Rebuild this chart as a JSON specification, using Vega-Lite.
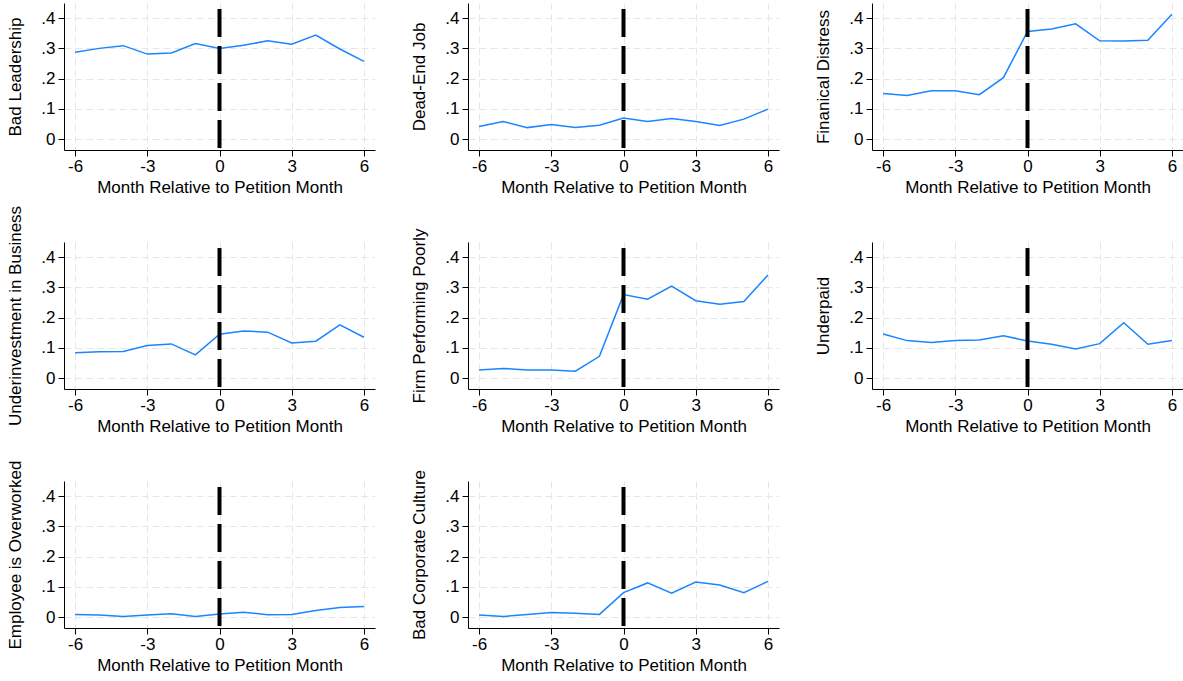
{
  "$schema": "https://vega.github.io/schema/vega-lite/v6.json",
  "padding": {"left": 6, "top": 3, "right": 0, "bottom": 0},
  "background": "white",
  "datasets": {
    "d": [
      {"c": "Bad Leadership", "m": -6, "v": 0.287}, {"c": "Bad Leadership", "m": -5, "v": 0.300}, {"c": "Bad Leadership", "m": -4, "v": 0.309}, {"c": "Bad Leadership", "m": -3, "v": 0.281}, {"c": "Bad Leadership", "m": -2, "v": 0.285}, {"c": "Bad Leadership", "m": -1, "v": 0.316}, {"c": "Bad Leadership", "m": 0, "v": 0.300}, {"c": "Bad Leadership", "m": 1, "v": 0.310}, {"c": "Bad Leadership", "m": 2, "v": 0.325}, {"c": "Bad Leadership", "m": 3, "v": 0.314}, {"c": "Bad Leadership", "m": 4, "v": 0.344}, {"c": "Bad Leadership", "m": 5, "v": 0.298}, {"c": "Bad Leadership", "m": 6, "v": 0.257},
      {"c": "Dead-End Job", "m": -6, "v": 0.042}, {"c": "Dead-End Job", "m": -5, "v": 0.058}, {"c": "Dead-End Job", "m": -4, "v": 0.038}, {"c": "Dead-End Job", "m": -3, "v": 0.048}, {"c": "Dead-End Job", "m": -2, "v": 0.038}, {"c": "Dead-End Job", "m": -1, "v": 0.046}, {"c": "Dead-End Job", "m": 0, "v": 0.070}, {"c": "Dead-End Job", "m": 1, "v": 0.058}, {"c": "Dead-End Job", "m": 2, "v": 0.068}, {"c": "Dead-End Job", "m": 3, "v": 0.058}, {"c": "Dead-End Job", "m": 4, "v": 0.045}, {"c": "Dead-End Job", "m": 5, "v": 0.066}, {"c": "Dead-End Job", "m": 6, "v": 0.099},
      {"c": "Finanical Distress", "m": -6, "v": 0.151}, {"c": "Finanical Distress", "m": -5, "v": 0.144}, {"c": "Finanical Distress", "m": -4, "v": 0.160}, {"c": "Finanical Distress", "m": -3, "v": 0.160}, {"c": "Finanical Distress", "m": -2, "v": 0.147}, {"c": "Finanical Distress", "m": -1, "v": 0.203}, {"c": "Finanical Distress", "m": 0, "v": 0.356}, {"c": "Finanical Distress", "m": 1, "v": 0.364}, {"c": "Finanical Distress", "m": 2, "v": 0.381}, {"c": "Finanical Distress", "m": 3, "v": 0.325}, {"c": "Finanical Distress", "m": 4, "v": 0.324}, {"c": "Finanical Distress", "m": 5, "v": 0.327}, {"c": "Finanical Distress", "m": 6, "v": 0.413},
      {"c": "Underinvestment in Business", "m": -6, "v": 0.084}, {"c": "Underinvestment in Business", "m": -5, "v": 0.087}, {"c": "Underinvestment in Business", "m": -4, "v": 0.088}, {"c": "Underinvestment in Business", "m": -3, "v": 0.108}, {"c": "Underinvestment in Business", "m": -2, "v": 0.113}, {"c": "Underinvestment in Business", "m": -1, "v": 0.077}, {"c": "Underinvestment in Business", "m": 0, "v": 0.145}, {"c": "Underinvestment in Business", "m": 1, "v": 0.156}, {"c": "Underinvestment in Business", "m": 2, "v": 0.152}, {"c": "Underinvestment in Business", "m": 3, "v": 0.116}, {"c": "Underinvestment in Business", "m": 4, "v": 0.122}, {"c": "Underinvestment in Business", "m": 5, "v": 0.176}, {"c": "Underinvestment in Business", "m": 6, "v": 0.135},
      {"c": "Firm Performing Poorly", "m": -6, "v": 0.027}, {"c": "Firm Performing Poorly", "m": -5, "v": 0.032}, {"c": "Firm Performing Poorly", "m": -4, "v": 0.027}, {"c": "Firm Performing Poorly", "m": -3, "v": 0.027}, {"c": "Firm Performing Poorly", "m": -2, "v": 0.023}, {"c": "Firm Performing Poorly", "m": -1, "v": 0.072}, {"c": "Firm Performing Poorly", "m": 0, "v": 0.276}, {"c": "Firm Performing Poorly", "m": 1, "v": 0.261}, {"c": "Firm Performing Poorly", "m": 2, "v": 0.304}, {"c": "Firm Performing Poorly", "m": 3, "v": 0.256}, {"c": "Firm Performing Poorly", "m": 4, "v": 0.244}, {"c": "Firm Performing Poorly", "m": 5, "v": 0.253}, {"c": "Firm Performing Poorly", "m": 6, "v": 0.341},
      {"c": "Underpaid", "m": -6, "v": 0.146}, {"c": "Underpaid", "m": -5, "v": 0.124}, {"c": "Underpaid", "m": -4, "v": 0.118}, {"c": "Underpaid", "m": -3, "v": 0.124}, {"c": "Underpaid", "m": -2, "v": 0.126}, {"c": "Underpaid", "m": -1, "v": 0.140}, {"c": "Underpaid", "m": 0, "v": 0.123}, {"c": "Underpaid", "m": 1, "v": 0.112}, {"c": "Underpaid", "m": 2, "v": 0.096}, {"c": "Underpaid", "m": 3, "v": 0.114}, {"c": "Underpaid", "m": 4, "v": 0.183}, {"c": "Underpaid", "m": 5, "v": 0.112}, {"c": "Underpaid", "m": 6, "v": 0.124},
      {"c": "Employee is Overworked", "m": -6, "v": 0.009}, {"c": "Employee is Overworked", "m": -5, "v": 0.007}, {"c": "Employee is Overworked", "m": -4, "v": 0.002}, {"c": "Employee is Overworked", "m": -3, "v": 0.007}, {"c": "Employee is Overworked", "m": -2, "v": 0.011}, {"c": "Employee is Overworked", "m": -1, "v": 0.002}, {"c": "Employee is Overworked", "m": 0, "v": 0.010}, {"c": "Employee is Overworked", "m": 1, "v": 0.016}, {"c": "Employee is Overworked", "m": 2, "v": 0.008}, {"c": "Employee is Overworked", "m": 3, "v": 0.009}, {"c": "Employee is Overworked", "m": 4, "v": 0.022}, {"c": "Employee is Overworked", "m": 5, "v": 0.032}, {"c": "Employee is Overworked", "m": 6, "v": 0.035},
      {"c": "Bad Corporate Culture", "m": -6, "v": 0.007}, {"c": "Bad Corporate Culture", "m": -5, "v": 0.002}, {"c": "Bad Corporate Culture", "m": -4, "v": 0.009}, {"c": "Bad Corporate Culture", "m": -3, "v": 0.015}, {"c": "Bad Corporate Culture", "m": -2, "v": 0.013}, {"c": "Bad Corporate Culture", "m": -1, "v": 0.009}, {"c": "Bad Corporate Culture", "m": 0, "v": 0.081}, {"c": "Bad Corporate Culture", "m": 1, "v": 0.113}, {"c": "Bad Corporate Culture", "m": 2, "v": 0.079}, {"c": "Bad Corporate Culture", "m": 3, "v": 0.116}, {"c": "Bad Corporate Culture", "m": 4, "v": 0.106}, {"c": "Bad Corporate Culture", "m": 5, "v": 0.081}, {"c": "Bad Corporate Culture", "m": 6, "v": 0.118}
    ]
  },
  "columns": 3,
  "bounds": "flush",
  "align": "all",
  "spacing": {"row": 92, "column": 93},
  "concat": [
    {"width": 311, "height": 147, "data": {"name": "d"}, "transform": [{"filter": "datum.c == 'Bad Leadership'"}],
     "layer": [
      {"mark": {"type": "line", "color": "#1a85ff", "strokeWidth": 1.5},
       "encoding": {"x": {"field": "m", "type": "quantitative", "scale": {"domain": [-6.46, 6.46], "nice": false, "zero": false}, "axis": {"values": [-6, -3, 0, 3, 6], "labelExpr": "'' + datum.value", "title": "Month Relative to Petition Month"}},
                    "y": {"field": "v", "type": "quantitative", "scale": {"domain": [-0.036, 0.45], "nice": false}, "axis": {"values": [0, 0.1, 0.2, 0.3, 0.4], "labelExpr": "datum.value == 0 ? '0' : replace(format(datum.value, '.1f'), '0.', '.')", "title": "Bad Leadership"}}}},
      {"data": {"values": [{}]}, "mark": {"type": "rule", "color": "#000", "strokeWidth": 4, "strokeDash": [28, 9]},
       "encoding": {"x": {"datum": 0, "type": "quantitative", "scale": {"domain": [-6.46, 6.46], "nice": false, "zero": false}, "axis": {"values": [-6, -3, 0, 3, 6], "labelExpr": "'' + datum.value", "title": "Month Relative to Petition Month"}},
                    "y": {"datum": 0.43, "type": "quantitative", "scale": {"domain": [-0.036, 0.45], "nice": false}, "axis": {"values": [0, 0.1, 0.2, 0.3, 0.4], "labelExpr": "datum.value == 0 ? '0' : replace(format(datum.value, '.1f'), '0.', '.')", "title": "Bad Leadership"}}, "y2": {"datum": -0.036}}}
     ]},
    {"width": 311, "height": 147, "data": {"name": "d"}, "transform": [{"filter": "datum.c == 'Dead-End Job'"}],
     "layer": [
      {"mark": {"type": "line", "color": "#1a85ff", "strokeWidth": 1.5},
       "encoding": {"x": {"field": "m", "type": "quantitative", "scale": {"domain": [-6.46, 6.46], "nice": false, "zero": false}, "axis": {"values": [-6, -3, 0, 3, 6], "labelExpr": "'' + datum.value", "title": "Month Relative to Petition Month"}},
                    "y": {"field": "v", "type": "quantitative", "scale": {"domain": [-0.036, 0.45], "nice": false}, "axis": {"values": [0, 0.1, 0.2, 0.3, 0.4], "labelExpr": "datum.value == 0 ? '0' : replace(format(datum.value, '.1f'), '0.', '.')", "title": "Dead-End Job"}}}},
      {"data": {"values": [{}]}, "mark": {"type": "rule", "color": "#000", "strokeWidth": 4, "strokeDash": [28, 9]},
       "encoding": {"x": {"datum": 0, "type": "quantitative", "scale": {"domain": [-6.46, 6.46], "nice": false, "zero": false}, "axis": {"values": [-6, -3, 0, 3, 6], "labelExpr": "'' + datum.value", "title": "Month Relative to Petition Month"}},
                    "y": {"datum": 0.43, "type": "quantitative", "scale": {"domain": [-0.036, 0.45], "nice": false}, "axis": {"values": [0, 0.1, 0.2, 0.3, 0.4], "labelExpr": "datum.value == 0 ? '0' : replace(format(datum.value, '.1f'), '0.', '.')", "title": "Dead-End Job"}}, "y2": {"datum": -0.036}}}
     ]},
    {"width": 311, "height": 147, "data": {"name": "d"}, "transform": [{"filter": "datum.c == 'Finanical Distress'"}],
     "layer": [
      {"mark": {"type": "line", "color": "#1a85ff", "strokeWidth": 1.5},
       "encoding": {"x": {"field": "m", "type": "quantitative", "scale": {"domain": [-6.46, 6.46], "nice": false, "zero": false}, "axis": {"values": [-6, -3, 0, 3, 6], "labelExpr": "'' + datum.value", "title": "Month Relative to Petition Month"}},
                    "y": {"field": "v", "type": "quantitative", "scale": {"domain": [-0.036, 0.45], "nice": false}, "axis": {"values": [0, 0.1, 0.2, 0.3, 0.4], "labelExpr": "datum.value == 0 ? '0' : replace(format(datum.value, '.1f'), '0.', '.')", "title": "Finanical Distress"}}}},
      {"data": {"values": [{}]}, "mark": {"type": "rule", "color": "#000", "strokeWidth": 4, "strokeDash": [28, 9]},
       "encoding": {"x": {"datum": 0, "type": "quantitative", "scale": {"domain": [-6.46, 6.46], "nice": false, "zero": false}, "axis": {"values": [-6, -3, 0, 3, 6], "labelExpr": "'' + datum.value", "title": "Month Relative to Petition Month"}},
                    "y": {"datum": 0.43, "type": "quantitative", "scale": {"domain": [-0.036, 0.45], "nice": false}, "axis": {"values": [0, 0.1, 0.2, 0.3, 0.4], "labelExpr": "datum.value == 0 ? '0' : replace(format(datum.value, '.1f'), '0.', '.')", "title": "Finanical Distress"}}, "y2": {"datum": -0.036}}}
     ]},
    {"width": 311, "height": 147, "data": {"name": "d"}, "transform": [{"filter": "datum.c == 'Underinvestment in Business'"}],
     "layer": [
      {"mark": {"type": "line", "color": "#1a85ff", "strokeWidth": 1.5},
       "encoding": {"x": {"field": "m", "type": "quantitative", "scale": {"domain": [-6.46, 6.46], "nice": false, "zero": false}, "axis": {"values": [-6, -3, 0, 3, 6], "labelExpr": "'' + datum.value", "title": "Month Relative to Petition Month"}},
                    "y": {"field": "v", "type": "quantitative", "scale": {"domain": [-0.036, 0.45], "nice": false}, "axis": {"values": [0, 0.1, 0.2, 0.3, 0.4], "labelExpr": "datum.value == 0 ? '0' : replace(format(datum.value, '.1f'), '0.', '.')", "title": "Underinvestment in Business"}}}},
      {"data": {"values": [{}]}, "mark": {"type": "rule", "color": "#000", "strokeWidth": 4, "strokeDash": [28, 9]},
       "encoding": {"x": {"datum": 0, "type": "quantitative", "scale": {"domain": [-6.46, 6.46], "nice": false, "zero": false}, "axis": {"values": [-6, -3, 0, 3, 6], "labelExpr": "'' + datum.value", "title": "Month Relative to Petition Month"}},
                    "y": {"datum": 0.43, "type": "quantitative", "scale": {"domain": [-0.036, 0.45], "nice": false}, "axis": {"values": [0, 0.1, 0.2, 0.3, 0.4], "labelExpr": "datum.value == 0 ? '0' : replace(format(datum.value, '.1f'), '0.', '.')", "title": "Underinvestment in Business"}}, "y2": {"datum": -0.036}}}
     ]},
    {"width": 311, "height": 147, "data": {"name": "d"}, "transform": [{"filter": "datum.c == 'Firm Performing Poorly'"}],
     "layer": [
      {"mark": {"type": "line", "color": "#1a85ff", "strokeWidth": 1.5},
       "encoding": {"x": {"field": "m", "type": "quantitative", "scale": {"domain": [-6.46, 6.46], "nice": false, "zero": false}, "axis": {"values": [-6, -3, 0, 3, 6], "labelExpr": "'' + datum.value", "title": "Month Relative to Petition Month"}},
                    "y": {"field": "v", "type": "quantitative", "scale": {"domain": [-0.036, 0.45], "nice": false}, "axis": {"values": [0, 0.1, 0.2, 0.3, 0.4], "labelExpr": "datum.value == 0 ? '0' : replace(format(datum.value, '.1f'), '0.', '.')", "title": "Firm Performing Poorly"}}}},
      {"data": {"values": [{}]}, "mark": {"type": "rule", "color": "#000", "strokeWidth": 4, "strokeDash": [28, 9]},
       "encoding": {"x": {"datum": 0, "type": "quantitative", "scale": {"domain": [-6.46, 6.46], "nice": false, "zero": false}, "axis": {"values": [-6, -3, 0, 3, 6], "labelExpr": "'' + datum.value", "title": "Month Relative to Petition Month"}},
                    "y": {"datum": 0.43, "type": "quantitative", "scale": {"domain": [-0.036, 0.45], "nice": false}, "axis": {"values": [0, 0.1, 0.2, 0.3, 0.4], "labelExpr": "datum.value == 0 ? '0' : replace(format(datum.value, '.1f'), '0.', '.')", "title": "Firm Performing Poorly"}}, "y2": {"datum": -0.036}}}
     ]},
    {"width": 311, "height": 147, "data": {"name": "d"}, "transform": [{"filter": "datum.c == 'Underpaid'"}],
     "layer": [
      {"mark": {"type": "line", "color": "#1a85ff", "strokeWidth": 1.5},
       "encoding": {"x": {"field": "m", "type": "quantitative", "scale": {"domain": [-6.46, 6.46], "nice": false, "zero": false}, "axis": {"values": [-6, -3, 0, 3, 6], "labelExpr": "'' + datum.value", "title": "Month Relative to Petition Month"}},
                    "y": {"field": "v", "type": "quantitative", "scale": {"domain": [-0.036, 0.45], "nice": false}, "axis": {"values": [0, 0.1, 0.2, 0.3, 0.4], "labelExpr": "datum.value == 0 ? '0' : replace(format(datum.value, '.1f'), '0.', '.')", "title": "Underpaid"}}}},
      {"data": {"values": [{}]}, "mark": {"type": "rule", "color": "#000", "strokeWidth": 4, "strokeDash": [28, 9]},
       "encoding": {"x": {"datum": 0, "type": "quantitative", "scale": {"domain": [-6.46, 6.46], "nice": false, "zero": false}, "axis": {"values": [-6, -3, 0, 3, 6], "labelExpr": "'' + datum.value", "title": "Month Relative to Petition Month"}},
                    "y": {"datum": 0.43, "type": "quantitative", "scale": {"domain": [-0.036, 0.45], "nice": false}, "axis": {"values": [0, 0.1, 0.2, 0.3, 0.4], "labelExpr": "datum.value == 0 ? '0' : replace(format(datum.value, '.1f'), '0.', '.')", "title": "Underpaid"}}, "y2": {"datum": -0.036}}}
     ]},
    {"width": 311, "height": 147, "data": {"name": "d"}, "transform": [{"filter": "datum.c == 'Employee is Overworked'"}],
     "layer": [
      {"mark": {"type": "line", "color": "#1a85ff", "strokeWidth": 1.5},
       "encoding": {"x": {"field": "m", "type": "quantitative", "scale": {"domain": [-6.46, 6.46], "nice": false, "zero": false}, "axis": {"values": [-6, -3, 0, 3, 6], "labelExpr": "'' + datum.value", "title": "Month Relative to Petition Month"}},
                    "y": {"field": "v", "type": "quantitative", "scale": {"domain": [-0.036, 0.45], "nice": false}, "axis": {"values": [0, 0.1, 0.2, 0.3, 0.4], "labelExpr": "datum.value == 0 ? '0' : replace(format(datum.value, '.1f'), '0.', '.')", "title": "Employee is Overworked"}}}},
      {"data": {"values": [{}]}, "mark": {"type": "rule", "color": "#000", "strokeWidth": 4, "strokeDash": [28, 9]},
       "encoding": {"x": {"datum": 0, "type": "quantitative", "scale": {"domain": [-6.46, 6.46], "nice": false, "zero": false}, "axis": {"values": [-6, -3, 0, 3, 6], "labelExpr": "'' + datum.value", "title": "Month Relative to Petition Month"}},
                    "y": {"datum": 0.43, "type": "quantitative", "scale": {"domain": [-0.036, 0.45], "nice": false}, "axis": {"values": [0, 0.1, 0.2, 0.3, 0.4], "labelExpr": "datum.value == 0 ? '0' : replace(format(datum.value, '.1f'), '0.', '.')", "title": "Employee is Overworked"}}, "y2": {"datum": -0.036}}}
     ]},
    {"width": 311, "height": 147, "data": {"name": "d"}, "transform": [{"filter": "datum.c == 'Bad Corporate Culture'"}],
     "layer": [
      {"mark": {"type": "line", "color": "#1a85ff", "strokeWidth": 1.5},
       "encoding": {"x": {"field": "m", "type": "quantitative", "scale": {"domain": [-6.46, 6.46], "nice": false, "zero": false}, "axis": {"values": [-6, -3, 0, 3, 6], "labelExpr": "'' + datum.value", "title": "Month Relative to Petition Month"}},
                    "y": {"field": "v", "type": "quantitative", "scale": {"domain": [-0.036, 0.45], "nice": false}, "axis": {"values": [0, 0.1, 0.2, 0.3, 0.4], "labelExpr": "datum.value == 0 ? '0' : replace(format(datum.value, '.1f'), '0.', '.')", "title": "Bad Corporate Culture"}}}},
      {"data": {"values": [{}]}, "mark": {"type": "rule", "color": "#000", "strokeWidth": 4, "strokeDash": [28, 9]},
       "encoding": {"x": {"datum": 0, "type": "quantitative", "scale": {"domain": [-6.46, 6.46], "nice": false, "zero": false}, "axis": {"values": [-6, -3, 0, 3, 6], "labelExpr": "'' + datum.value", "title": "Month Relative to Petition Month"}},
                    "y": {"datum": 0.43, "type": "quantitative", "scale": {"domain": [-0.036, 0.45], "nice": false}, "axis": {"values": [0, 0.1, 0.2, 0.3, 0.4], "labelExpr": "datum.value == 0 ? '0' : replace(format(datum.value, '.1f'), '0.', '.')", "title": "Bad Corporate Culture"}}, "y2": {"datum": -0.036}}}
     ]}
  ],
  "config": {
    "view": {"stroke": null},
    "font": "Liberation Sans",
    "axis": {"domainColor": "#000", "domainWidth": 1, "tickColor": "#000", "tickSize": 6, "labelColor": "#000", "titleColor": "#000", "labelFontSize": 17, "titleFontSize": 17, "titleFontWeight": "normal", "gridColor": "#e6e6e6", "gridDash": [7, 4], "gridWidth": 1, "labelPadding": 2, "labelOverlap": false},
    "axisX": {"titlePadding": 5},
    "axisY": {"titlePadding": 16, "labelPadding": 3}
  }
}
